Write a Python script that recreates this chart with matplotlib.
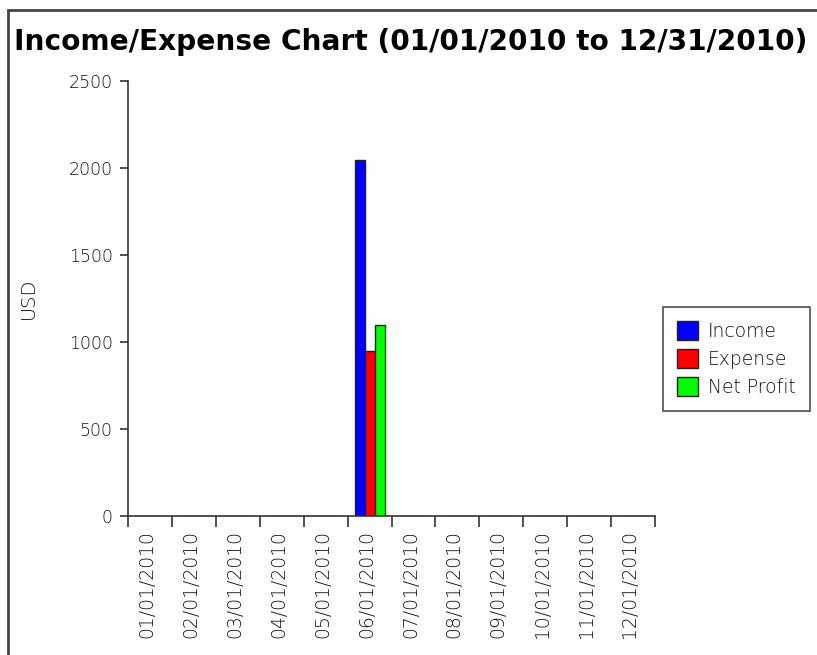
import numpy as np
import matplotlib
matplotlib.use('Agg')
import matplotlib.pyplot as plt
from matplotlib.patches import Rectangle

months = ['01/01/2010', '02/01/2010', '03/01/2010', '04/01/2010', '05/01/2010', '06/01/2010',
          '07/01/2010', '08/01/2010', '09/01/2010', '10/01/2010', '11/01/2010', '12/01/2010']
income = [0, 0, 0, 0, 0, 2045, 0, 0, 0, 0, 0, 0]
expense = [0, 0, 0, 0, 0, 950, 0, 0, 0, 0, 0, 0]
net_profit = [0, 0, 0, 0, 0, 1100, 0, 0, 0, 0, 0, 0]

thin = dict(family='DejaVu Sans', weight='light')

fig = plt.figure(figsize=(8.17, 6.55), dpi=100)
ax = fig.add_axes([128/817, 1 - 516/655, (655 - 128)/817, (516 - 81)/655])

x = np.arange(len(months)) + 0.5
w = 0.228
ax.bar(x - w, income, w, color='#0000ff', edgecolor='#222222', linewidth=1, label='Income')
ax.bar(x, expense, w, color='#ff0000', edgecolor='#222222', linewidth=1, label='Expense')
ax.bar(x + w, net_profit, w, color='#00ff00', edgecolor='#222222', linewidth=1, label='Net Profit')

ax.set_xlim(0, len(months))
ax.set_ylim(0, 2500)
ax.set_yticks([0, 500, 1000, 1500, 2000, 2500])
ax.set_yticklabels(['0', '500', '1000', '1500', '2000', '2500'], fontsize=12.5, color='#111111', **thin)
ax.set_xticks(np.arange(len(months) + 1))
ax.set_xticklabels([])
ax.set_xticks(x - 0.07, minor=True)
ax.set_xticklabels(months, minor=True, rotation=90, fontsize=13.5, color='#111111', **thin)
ax.tick_params(axis='x', which='minor', length=0, pad=10)
ax.tick_params(axis='x', which='major', length=8, width=1.2, color='#333333')
ax.tick_params(axis='y', length=6, width=1.2, color='#333333', pad=5)
for s in ['top', 'right']:
    ax.spines[s].set_visible(False)
for s in ['left', 'bottom']:
    ax.spines[s].set_color('#333333')
    ax.spines[s].set_linewidth(1.2)
ax.set_ylabel('USD', fontsize=14, color='#111111', labelpad=22, **thin)

leg = fig.legend(loc='upper left', bbox_to_anchor=(663/817, 1 - 307/655), borderaxespad=0,
                 prop=dict(size=13.5, **thin),
                 frameon=True, fancybox=False, edgecolor='#222222', handlelength=1.1,
                 handleheight=1.2, handletextpad=0.55, borderpad=0.75, labelspacing=0.42)
leg.get_frame().set_linewidth(1.2)
for t in leg.get_texts():
    t.set_color('#111111')

fig.text(14/817, 1 - 42/655, 'Income/Expense Chart (01/01/2010 to 12/31/2010)',
         fontsize=20.2, fontweight='bold', va='center', ha='left')

fig.patches.append(Rectangle((8/817, -0.1), 1.2, 1 - 10/655 + 0.1, transform=fig.transFigure,
                             fill=False, edgecolor='#444444', linewidth=2))

fig.savefig('out.png', dpi=100)
